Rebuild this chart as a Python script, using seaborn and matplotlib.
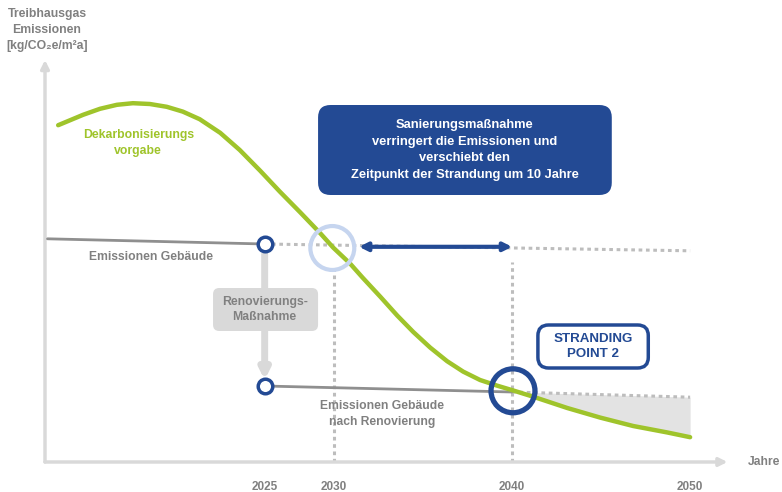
import numpy as np
import pandas as pd
import matplotlib.pyplot as plt
import seaborn as sns
from matplotlib.patches import FancyBboxPatch

# %% Data (schematic values, emissions in 0-100 units)
green_years = [2014.5, 2015.9, 2016.85, 2017.8, 2018.7, 2019.65, 2020.6, 2021.5, 2022.45,
               2023.6, 2024.7, 2025.85, 2026.95, 2028.1, 2029.2, 2029.95, 2030.9, 2031.6,
               2032.6, 2033.55, 2034.45, 2035.4, 2036.35, 2037.25, 2038.2, 2039.15, 2040.05,
               2041.2, 2043.1, 2044.95, 2046.8, 2048.7, 2050.0]
green_vals = [84.2, 86.8, 88.3, 89.3, 89.7, 89.5, 88.8, 87.6, 85.7,
              82.3, 78.0, 72.8, 67.6, 62.4, 57.3, 53.6, 49.6, 46.1,
              41.3, 36.6, 32.5, 28.6, 25.2, 22.6, 20.5, 19.1, 17.9,
              16.3, 13.5, 11.1, 9.0, 7.4, 6.2]

# building emissions before renovation (solid until the measure, dotted afterwards)
bldg_years = [2013.9, 2026.1]
bldg_vals = [55.8, 54.5]
bldg_dot_years = [2026.1, 2050.0]
bldg_dot_vals = [54.5, 52.8]

# building emissions after renovation
reno_years = [2026.1, 2040.0]
reno_vals = [19.0, 17.5]
reno_dot_years = [2040.0, 2050.0]
reno_dot_vals = [17.5, 16.2]

# the original axis is schematic: 2025 sits closer to 2030 than the scale says
tick_pos = [2026.1, 2030, 2040, 2050]
tick_labels = ['2025', '2030', '2040', '2050']

strand_old = (2029.9, 53.5)
strand_new = (2040.05, 17.8)

GREEN = '#9fc42b'
BLUE = '#234a94'
LIGHTBLUE = '#c6d5ef'
GREY_TXT = '#808080'
GREY_LINE = '#8f8f8f'
GREY_DOT = '#bdbdbd'
GREY_AX = '#d9d9d9'
DOTS = (0, (1.2, 1.2))

sns.set_style('white')
plt.rcParams['font.family'] = ['Liberation Sans', 'DejaVu Sans']
plt.rcParams['font.weight'] = 'bold'

fig = plt.figure(figsize=(7.82, 4.92), dpi=100)
ax = fig.add_axes([45 / 782, 30 / 492, 680 / 782, 400 / 492])
ax.set_xlim(2013.76, 2051.96)
ax.set_ylim(0, 100)
for s in ax.spines.values():
    s.set_visible(False)

# axes drawn as arrows
ax.annotate('', xy=(2052.1, 0), xytext=(2013.76, 0), annotation_clip=False,
            arrowprops=dict(arrowstyle='-|>', color=GREY_AX, lw=2.5, mutation_scale=12,
                            shrinkA=0, shrinkB=0))
ax.annotate('', xy=(0, 100.5), xytext=(0, 0), xycoords=('axes fraction', 'data'),
            textcoords=('axes fraction', 'data'), annotation_clip=False,
            arrowprops=dict(arrowstyle='-|>', color=GREY_AX, lw=2.5, mutation_scale=12,
                            shrinkA=0, shrinkB=0))
ax.set_xticks(tick_pos)
ax.set_xticklabels(tick_labels)
ax.set_yticks([])
ax.tick_params(axis='x', direction='inout', length=14, width=2.5, color=GREY_AX,
               labelcolor=GREY_TXT, labelsize=8.5, pad=6.5)

# gap area after the shifted stranding point
gx = np.array([y for y in green_years if y >= 2040.0])
gy = np.array([v for y, v in zip(green_years, green_vals) if y >= 2040.0])
ax.fill_between(gx, gy, np.interp(gx, reno_dot_years, reno_dot_vals),
                color='#e3e3e3', lw=0, zorder=1)

# vertical guide lines
ax.plot([2030, 2030], [0, 49], color=GREY_DOT, lw=2.2, ls=DOTS, zorder=1)
ax.plot([2040, 2040], [0, 50], color=GREY_DOT, lw=2.2, ls=DOTS, zorder=1)

# building lines
sns.lineplot(x=bldg_dot_years, y=bldg_dot_vals, ax=ax, color=GREY_DOT, lw=2.2,
             linestyle=DOTS, zorder=2)
sns.lineplot(x=reno_dot_years, y=reno_dot_vals, ax=ax, color=GREY_DOT, lw=2.2,
             linestyle=DOTS, zorder=2)
sns.lineplot(x=bldg_years, y=bldg_vals, ax=ax, color=GREY_LINE, lw=2, zorder=3)
sns.lineplot(x=reno_years, y=reno_vals, ax=ax, color=GREY_LINE, lw=2, zorder=3)

# decarbonisation pathway
sns.lineplot(x=green_years, y=green_vals, ax=ax, color=GREEN, lw=3.2, zorder=4,
             estimator=None)

# renovation arrow + box
ax.annotate('', xy=(tick_pos[0], 20.5), xytext=(tick_pos[0], 52),
            arrowprops=dict(arrowstyle='-|>', color=GREY_AX, lw=5, mutation_scale=14,
                            shrinkA=0, shrinkB=0), zorder=3)
ax.add_patch(FancyBboxPatch((2023.2, 32.75), 5.9, 10.75,
                            boxstyle='round,pad=0,rounding_size=0.35', mutation_aspect=4.4,
                            fc=GREY_AX, ec='none', zorder=4))
ax.text(tick_pos[0], 38.1, 'Renovierungs-\nMaßnahme', ha='center', va='center',
        color=GREY_TXT, fontsize=8.8, linespacing=1.4, zorder=5)

# markers
ax.scatter([bldg_years[-1], reno_years[0]], [bldg_vals[-1], reno_vals[0]], s=110,
           facecolor='white', edgecolor=BLUE, lw=2.5, zorder=6)
ax.scatter([strand_old[0]], [strand_old[1]], s=1000, facecolor='none',
           edgecolor=LIGHTBLUE, lw=3, zorder=6)
ax.scatter([strand_new[0]], [strand_new[1]], s=1000, facecolor='none',
           edgecolor=BLUE, lw=3.8, zorder=6)

# shift arrow
ax.annotate('', xy=(2040.0, 53.8), xytext=(2031.4, 53.8),
            arrowprops=dict(arrowstyle='<|-|>', color=BLUE, lw=3, mutation_scale=12,
                            shrinkA=0, shrinkB=0), zorder=5)

# info box
ax.add_patch(FancyBboxPatch((2029.1, 66.75), 16.5, 22.5,
                            boxstyle='round,pad=0,rounding_size=0.7', mutation_aspect=4.4,
                            fc=BLUE, ec='none', zorder=5))
ax.text(2037.35, 78.0,
        'Sanierungsmaßnahme\nverringert die Emissionen und\nverschiebt den\n'
        'Zeitpunkt der Strandung um 10 Jahre',
        ha='center', va='center', color='white', fontsize=9.3, linespacing=1.55, zorder=6)

# stranding box
ax.add_patch(FancyBboxPatch((2041.45, 23.5), 6.2, 10.75,
                            boxstyle='round,pad=0,rounding_size=0.6', mutation_aspect=4.4,
                            fc='white', ec=BLUE, lw=2.5, zorder=5))
ax.text(2044.55, 28.9, 'STRANDING\nPOINT 2', ha='center', va='center', color=BLUE,
        fontsize=9.6, linespacing=1.35, zorder=6)

# line labels
ax.text(2019.0, 79.8, 'Dekarbonisierungs\nvorgabe', ha='center', va='center',
        color=GREEN, fontsize=8.8, linespacing=1.45)
ax.text(2019.7, 51.3, 'Emissionen Gebäude', ha='center', va='center',
        color=GREY_TXT, fontsize=8.7)
ax.text(2032.7, 12.0, 'Emissionen Gebäude\nnach Renovierung', ha='center', va='center',
        color=GREY_TXT, fontsize=8.7, linespacing=1.45)

# axis titles
fig.text(47 / 782, 1 - 30 / 492, 'Treibhausgas\nEmissionen\n[kg/CO₂e/m²a]',
         ha='center', va='center', color=GREY_TXT, fontsize=8.8, linespacing=1.4,
         fontweight='bold')
fig.text(748 / 782, 30 / 492, 'Jahre', ha='left', va='center', color=GREY_TXT, fontsize=8.7)

fig.savefig('out.png', dpi=100)
